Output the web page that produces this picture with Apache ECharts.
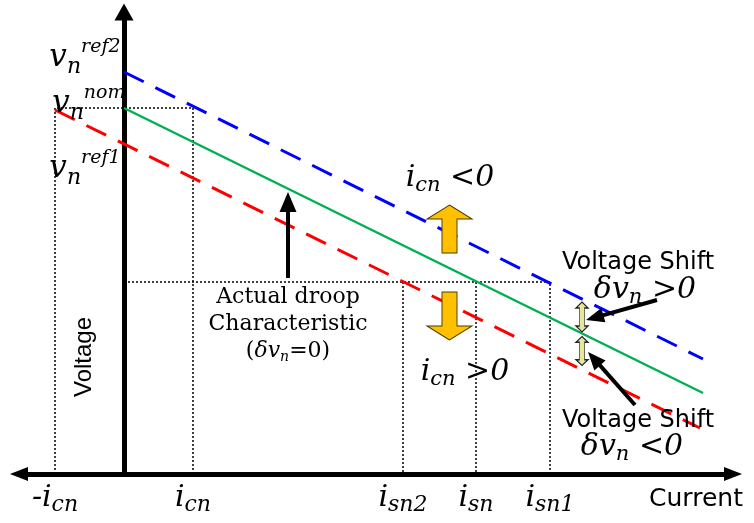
<!DOCTYPE html>
<html>
<head>
<meta charset="utf-8">
<script src="https://cdn.jsdelivr.net/npm/echarts@6/dist/echarts.min.js"></script>
<style>
html, body { margin: 0; padding: 0; background: #fff; }
#droopChart { width: 754px; height: 523px; }
</style>
</head>
<body>
<div id="droopChart"></div>
<script>
// current axis: tick positions (arbitrary units, 0 = voltage axis) and their names
var currentTicks = [-6.9, 6.9, 27.9, 35.2, 42.6];
var currentLabels = ['-i_cn', 'i_cn', 'i_sn2', 'i_sn', 'i_sn1'];
// voltage axis: levels where the droop lines meet it
var voltageLevels = [40.2, 36.6, 33.1];
var voltageLabels = ['ref2', 'nom', 'ref1'];
// droop characteristics (end points)
var droopActual = [[0, 36.6], [57.9, 8.1]];
var droopUp = [[0, 40.2], [57.9, 11.5]];
var droopDown = [[-6.9, 36.4], [57.6, 4.6]];
// dotted guide lines
var guideNom = [[-6.9, 0], [-6.9, 36.6], [6.9, 36.6], [6.9, 0]];
var guideShift = [[0, 19.2], [42.6, 19.2], [42.6, 0]];
var guideSn2 = [[27.9, 19.2], [27.9, 0]];
var guideSn = [[35.2, 19.2], [35.2, 0]];

var serif = 'DejaVu Serif';
var sans = 'DejaVu Sans';

function subLabel(s) {
    var p = s.split('_');
    return '{m|' + p[0] + '}{s|' + p[1] + '}';
}

var tickRich = {
    m: {fontFamily: serif, fontStyle: 'italic', fontSize: 30, lineHeight: 36, color: '#000'},
    s: {fontFamily: serif, fontStyle: 'italic', fontSize: 22, lineHeight: 22, verticalAlign: 'bottom', color: '#000'}
};
var voltRich = {
    v: {fontFamily: serif, fontStyle: 'italic', fontSize: 31, lineHeight: 40, color: '#000'},
    n: {fontFamily: serif, fontStyle: 'italic', fontSize: 22, lineHeight: 20, verticalAlign: 'bottom', color: '#000'},
    p: {fontFamily: serif, fontStyle: 'italic', fontSize: 19, lineHeight: 20, verticalAlign: 'top', color: '#000'}
};
var noteRich = {
    r: {fontFamily: serif, fontSize: 22, lineHeight: 27, color: '#000'},
    i: {fontFamily: serif, fontStyle: 'italic', fontSize: 22, lineHeight: 27, color: '#000'},
    s: {fontFamily: serif, fontStyle: 'italic', fontSize: 14, lineHeight: 18, verticalAlign: 'bottom', color: '#000'},
    m: {fontFamily: serif, fontStyle: 'italic', fontSize: 30, lineHeight: 36, color: '#000'},
    b: {fontFamily: serif, fontStyle: 'italic', fontSize: 21, lineHeight: 22, verticalAlign: 'bottom', color: '#000'}
};

function note(x, y, text, extra) {
    var el = {
        type: 'text', x: x, y: y, z: 10,
        style: {text: text, rich: noteRich, fill: '#000',
            align: 'center', verticalAlign: 'middle', textAlign: 'center', textVerticalAlign: 'middle'}
    };
    if (extra) {
        for (var k in extra) el.style[k] = extra[k];
    }
    return el;
}

var dotted = {color: '#000', width: 1.5, type: [2, 2]};
var dashed = {width: 3, type: [22, 13]};

var myChart = echarts.init(document.getElementById('droopChart'));
var option = {
    animation: false,
    backgroundColor: '#fff',
    grid: {left: 19, right: 21, top: 12, bottom: 49},
    xAxis: {
        type: 'value',
        min: -10.5,
        max: 60.9,
        splitLine: {show: false},
        axisTick: {show: false},
        axisLine: {
            onZero: true,
            symbol: ['triangle', 'triangle'],
            symbolSize: [14, 18],
            lineStyle: {color: '#000', width: 5}
        },
        axisLabel: {
            customValues: currentTicks,
            margin: 6,
            color: '#000',
            rich: tickRich,
            formatter: function (v) {
                return subLabel(currentLabels[currentTicks.indexOf(v)]);
            }
        }
    },
    yAxis: {
        type: 'value',
        min: 0,
        max: 46.2,
        splitLine: {show: false},
        axisTick: {show: false},
        axisLabel: {show: false},
        axisLine: {
            onZero: true,
            symbol: ['none', 'triangle'],
            symbolSize: [19, 17],
            lineStyle: {color: '#000', width: 5}
        }
    },
    series: [
        {type: 'line', data: guideNom, symbol: 'none', lineStyle: dotted, z: 1},
        {type: 'line', data: guideShift, symbol: 'none', lineStyle: dotted, z: 1},
        {type: 'line', data: guideSn2, symbol: 'none', lineStyle: dotted, z: 1},
        {type: 'line', data: guideSn, symbol: 'none', lineStyle: dotted, z: 1},
        {
            name: 'ref2', type: 'line', data: droopUp, symbol: 'none',
            lineStyle: {color: '#0000ff', width: dashed.width, type: dashed.type}
        },
        {
            name: 'ref1', type: 'line', data: droopDown, symbol: 'none',
            lineStyle: {color: '#ff0000', width: dashed.width, type: dashed.type}
        },
        {
            name: 'nom', type: 'line', data: droopActual, symbol: 'none',
            lineStyle: {color: '#00b050', width: 2.5},
            markLine: {
                silent: true,
                symbol: ['none', 'triangle'],
                symbolSize: [17, 20],
                label: {show: false},
                lineStyle: {color: '#000', width: 4, type: 'solid'},
                data: [
                    [{coord: [16.4, 19.6]}, {coord: [16.4, 27.2]}],
                    [{coord: [53.3, 17.4], symbolSize: [15, 18]}, {coord: [47.07, 15.64], symbolSize: [15, 18]}],
                    [{coord: [51.1, 6.9], symbolSize: [15, 18]}, {coord: [47.0, 11.53], symbolSize: [15, 18]}]
                ]
            }
        },
        {
            // voltage axis labels
            type: 'scatter',
            symbolSize: 1,
            itemStyle: {color: 'transparent', opacity: 1},
            data: voltageLevels.map(function (v, i) {
                var off = [[0, -14], [5, -4], [0, 26]][i];
                return {value: [0, v], label: {offset: off}};
            }),
            label: {
                show: true,
                position: 'left',
                distance: 3,
                color: '#000',
                rich: voltRich,
                formatter: function (p) {
                    return '{v|v}{n|n}{p|' + voltageLabels[p.dataIndex] + '}';
                }
            },
            z: 5
        },
        {
            // orange shift arrows
            type: 'scatter',
            symbol: 'path://M22.5,0 L45,14 L30,14 L30,48 L15,48 L15,14 L0,14 Z',
            symbolSize: [45, 48],
            itemStyle: {color: '#ffc000', borderColor: '#4d3d00', borderWidth: 1, opacity: 1},
            data: [
                {value: [32.55, 24.5], symbolRotate: 0},
                {value: [32.55, 15.8], symbolRotate: 180}
            ],
            z: 6
        },
        {
            // small double arrows showing the voltage shift
            type: 'scatter',
            symbol: 'path://M6,0 L12,6 L8.5,6 L8.5,24 L12,24 L6,30 L0,24 L3.5,24 L3.5,6 L0,6 Z',
            itemStyle: {color: '#e6e69c', borderColor: '#222', borderWidth: 1, opacity: 1},
            data: [
                {value: [45.8, 15.7], symbolSize: [12, 30]},
                {value: [45.8, 12.3], symbolSize: [12, 29]}
            ],
            z: 6
        }
    ],
    graphic: [
        note(288, 324, '{r|Actual droop}\n{r|Characteristic}\n{r|(}{i|δv}{s|n}{r|=0)}'),
        note(450, 178, '{m|i}{b|cn}{m| <0}'),
        note(465, 372, '{m|i}{b|cn}{m| >0}'),
        note(638, 263, 'Voltage Shift', {fontFamily: sans, fontSize: 24}),
        note(645, 290, '{m|δv}{b|n}{m| >0}'),
        note(638, 421, 'Voltage Shift', {fontFamily: sans, fontSize: 24}),
        note(632, 447, '{m|δv}{b|n}{m| <0}'),
        note(696, 499, 'Current', {fontFamily: sans, fontSize: 25}),
        {
            type: 'text', x: 84, y: 357, rotation: Math.PI / 2, z: 10,
            style: {text: 'Voltage', fontFamily: 'Liberation Sans', fontSize: 24, fill: '#000',
                align: 'center', verticalAlign: 'middle', textAlign: 'center', textVerticalAlign: 'middle'}
        }
    ]
};
myChart.setOption(option);
window.addEventListener('resize', function () {
    myChart.resize();
});
</script>
</body>
</html>
